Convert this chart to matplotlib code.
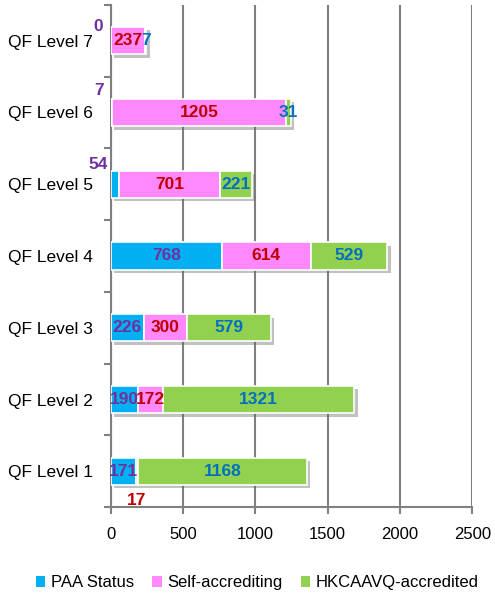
import matplotlib
matplotlib.use("Agg")
import matplotlib.pyplot as plt
import matplotlib.patheffects as pe
from matplotlib.patches import Patch
import numpy as np

categories = ["QF Level 1", "QF Level 2", "QF Level 3", "QF Level 4",
              "QF Level 5", "QF Level 6", "QF Level 7"]
series_names = ["PAA Status", "Self-accrediting", "HKCAAVQ-accredited"]
paa = [171, 190, 226, 768, 54, 7, 0]
self_acc = [17, 172, 300, 614, 701, 1205, 237]
hkcaavq = [1168, 1321, 579, 529, 221, 31, 7]
xticks = [0, 500, 1000, 1500, 2000, 2500]

bar_colors = ["#00B0F0", "#FF88FF", "#92D050"]
label_colors = ["#7030A0", "#C00000", "#0070C0"]
# label offsets in points for crowded labels: (series index, category index) -> (dx, dy)
label_offsets = {(0, 6): (-9, 10), (0, 5): (-9, 16), (0, 4): (-12, 14), (1, 0): (0, -21)}

FONT = ["Liberation Sans", "DejaVu Sans"]
plt.rcParams["font.family"] = FONT

fig = plt.figure(figsize=(4.95, 5.96), dpi=100)
ax = fig.add_axes([0.224, 0.149, 0.730, 0.843])

y = np.arange(len(categories))
data = [paa, self_acc, hkcaavq]
left = np.zeros(len(categories))
shadow = [pe.SimplePatchShadow(offset=(2.5, -2.5), shadow_rgbFace="#666666", alpha=0.4), pe.Normal()]
for si, vals in enumerate(data):
    vals = np.array(vals, dtype=float)
    bars = ax.barh(y, vals, left=left, height=0.38, color=bar_colors[si],
                   edgecolor="white", linewidth=1.2, zorder=3)
    for b in bars:
        b.set_path_effects(shadow)
    for ci in range(len(categories)):
        cx = left[ci] + vals[ci] / 2
        dx, dy = label_offsets.get((si, ci), (0, 0))
        ax.annotate(str(int(vals[ci])), (cx, y[ci]), xytext=(dx, dy),
                    textcoords="offset points", ha="center", va="center",
                    fontsize=12.5, fontweight="bold", color=label_colors[si], zorder=5)
    left = left + vals

ax.set_xlim(0, 2500)
ax.set_ylim(-0.5, len(categories) - 0.5)
ax.set_xticks(xticks)
ax.set_xticklabels([str(t) for t in xticks])
ax.set_yticks(y)
ax.set_yticklabels(categories)
ax.set_yticks(np.arange(-0.5, len(categories), 1), minor=True)
ax.tick_params(axis="y", which="major", length=0, pad=13, labelsize=12.5)
ax.tick_params(axis="y", which="minor", length=5, width=1.5, color="#808080")
ax.tick_params(axis="x", length=5, width=1.5, color="#808080", labelsize=12, pad=9)
ax.grid(axis="x", color="#808080", linewidth=1.5, zorder=0)
for s in ["top", "right"]:
    ax.spines[s].set_visible(False)
for s in ["left", "bottom"]:
    ax.spines[s].set_color("#808080")
    ax.spines[s].set_linewidth(1.5)

handles = [Patch(facecolor=c, edgecolor="none") for c in bar_colors]
fig.legend(handles, series_names, loc="center", bbox_to_anchor=(0.52, 0.022), ncol=3,
           frameon=False, fontsize=12, handlelength=0.55, handleheight=0.55,
           handletextpad=0.35, columnspacing=1.1)

fig.savefig("out.png", dpi=100)
